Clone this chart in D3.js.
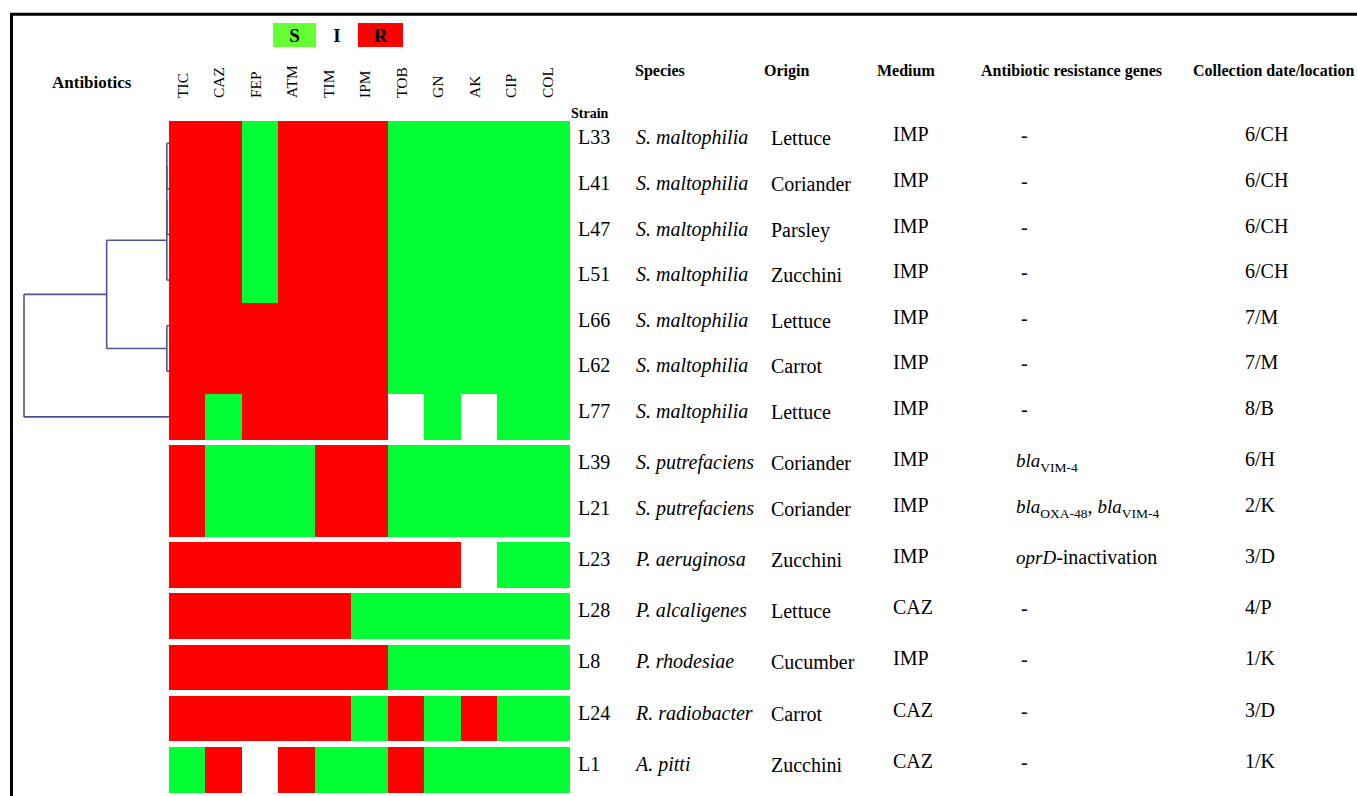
<!DOCTYPE html>
<html>
<head>
<meta charset="utf-8">
<script src="https://cdn.jsdelivr.net/npm/d3@7"></script>
<style>
  body { margin: 0; background: #fff; }
  svg text { font-family: "Liberation Serif", "Times New Roman", serif; fill: #000; }
</style>
</head>
<body>
<svg id="chart" width="1357" height="796"></svg>
<script>
// antibiotics (columns) and strains (rows)
var antibiotics = ["TIC", "CAZ", "FEP", "ATM", "TIM", "IPM", "TOB", "GN", "AK", "CIP", "COL"];
var strains = ["L33", "L41", "L47", "L51", "L66", "L62", "L77", "L39", "L21", "L23", "L28", "L8", "L24", "L1"];
var rowGroup = [0, 0, 0, 0, 0, 0, 0, 1, 1, 2, 3, 4, 5, 6];

// S / I / R profile, one letter per antibiotic
var profiles = [
  "RRSRRRSSSSS",
  "RRSRRRSSSSS",
  "RRSRRRSSSSS",
  "RRSRRRSSSSS",
  "RRRRRRSSSSS",
  "RRRRRRSSSSS",
  "RSRRRRISISS",
  "RSSSRRSSSSS",
  "RSSSRRSSSSS",
  "RRRRRRRRISS",
  "RRRRRSSSSSS",
  "RRRRRRSSSSS",
  "RRRRRSRSRSS",
  "SRIRSSRSSSS"
];

var species = ["S. maltophilia", "S. maltophilia", "S. maltophilia", "S. maltophilia", "S. maltophilia",
  "S. maltophilia", "S. maltophilia", "S. putrefaciens", "S. putrefaciens", "P. aeruginosa",
  "P. alcaligenes", "P. rhodesiae", "R. radiobacter", "A. pitti"];
var origins = ["Lettuce", "Coriander", "Parsley", "Zucchini", "Lettuce", "Carrot", "Lettuce",
  "Coriander", "Coriander", "Zucchini", "Lettuce", "Cucumber", "Carrot", "Zucchini"];
var media = ["IMP", "IMP", "IMP", "IMP", "IMP", "IMP", "IMP", "IMP", "IMP", "IMP", "CAZ", "IMP", "CAZ", "CAZ"];
// gene text as [text, style] pieces: i = italic, s = subscript, n = normal
var genes = [
  [["-", "n"]], [["-", "n"]], [["-", "n"]], [["-", "n"]], [["-", "n"]], [["-", "n"]], [["-", "n"]],
  [["bla", "i"], ["VIM-4", "s"]],
  [["bla", "i"], ["OXA-48", "s"], [", ", "n"], ["bla", "i"], ["VIM-4", "s"]],
  [["oprD", "i"], ["-inactivation", "n"]],
  [["-", "n"]], [["-", "n"]], [["-", "n"]], [["-", "n"]]
];
var collection = ["6/CH", "6/CH", "6/CH", "6/CH", "7/M", "7/M", "8/B", "6/H", "2/K", "3/D", "4/P", "1/K", "3/D", "1/K"];

var headers = ["Species", "Origin", "Medium", "Antibiotic resistance genes", "Collection date/location"];

// dendrogram of the first block (h = joining distance)
var tree = {h: 1, children: [
  {h: 0.43, children: [
    {h: 0.015, children: [
      {h: 0.015, children: [
        {h: 0.015, children: [{name: "L33", h: 0}, {name: "L41", h: 0}]},
        {name: "L47", h: 0}]},
      {name: "L51", h: 0}]},
    {h: 0.015, children: [{name: "L66", h: 0}, {name: "L62", h: 0}]}]},
  {name: "L77", h: 0}]};

var colors = {R: "#ff0000", S: "#00ff33", I: "#ffffff"};

var svg = d3.select("#chart");

// frame
svg.append("path")
  .attr("d", "M11.5,800 V14.3 H1360")
  .attr("fill", "none")
  .attr("stroke", "#000")
  .attr("stroke-width", 3);

// scales
var rowH = 45.6, gap = 5.6, gridTop = 120.5;
var x = d3.scaleBand().domain(antibiotics).range([168.5, 570]);
var yBand = d3.scaleBand().domain(strains).range([gridTop, gridTop + rowH * strains.length]);
function y(s) {
  return yBand(s) + rowGroup[strains.indexOf(s)] * gap;
}
function yc(s) {
  return y(s) + yBand.bandwidth() / 2;
}

// legend
var legend = [{k: "S", x: 273, w: 43, fill: "#66ff33"}, {k: "I", x: 322, w: 30, fill: "none"}, {k: "R", x: 358, w: 45, fill: "#ff0000"}];
var lg = svg.append("g").selectAll("g").data(legend).enter().append("g");
lg.append("rect")
  .attr("x", function(d) { return d.x; })
  .attr("y", 23)
  .attr("width", function(d) { return d.w; })
  .attr("height", 24)
  .attr("fill", function(d) { return d.fill; });
lg.append("text")
  .attr("x", function(d) { return d.x + d.w / 2; })
  .attr("y", 42)
  .attr("text-anchor", "middle")
  .style("font-size", "19px")
  .style("font-weight", "bold")
  .text(function(d) { return d.k; });

svg.append("text")
  .attr("x", 52).attr("y", 88)
  .style("font-size", "17px").style("font-weight", "bold")
  .text("Antibiotics");

// antibiotic labels, rotated
svg.append("g").selectAll("text")
  .data(antibiotics)
  .enter().append("text")
  .attr("transform", function(d) {
    return "translate(" + (x(d) + x.bandwidth() / 2 + 1) + ",98) rotate(-90)";
  })
  .style("font-size", "15.5px")
  .text(function(d) { return d; });

// heatmap cells
var cells = [];
strains.forEach(function(s, i) {
  antibiotics.forEach(function(a, j) {
    cells.push({strain: s, ab: a, v: profiles[i][j]});
  });
});
svg.append("g").selectAll("rect")
  .data(cells)
  .enter().append("rect")
  .attr("x", function(d) { return x(d.ab); })
  .attr("y", function(d) { return y(d.strain); })
  .attr("width", x.bandwidth())
  .attr("height", yBand.bandwidth())
  .attr("fill", function(d) { return colors[d.v]; })
  .attr("shape-rendering", "crispEdges");

// dendrogram
var dist = d3.scaleLinear().domain([0, 1]).range([169, 24]);
var root = d3.hierarchy(tree);
root.eachAfter(function(n) {
  if (!n.children) n.yy = yc(n.data.name);
  else n.yy = d3.mean(n.children, function(c) { return c.yy; });
});
var dg = svg.append("g")
  .attr("fill", "none")
  .attr("stroke", "#4f5290")
  .attr("stroke-width", 1.6);
root.descendants().filter(function(n) { return n.children; }).forEach(function(n) {
  var kids = n.children;
  dg.append("line")
    .attr("x1", dist(n.data.h)).attr("x2", dist(n.data.h))
    .attr("y1", kids[0].yy).attr("y2", kids[kids.length - 1].yy);
  kids.forEach(function(c) {
    dg.append("line")
      .attr("x1", dist(n.data.h)).attr("x2", dist(c.data.h))
      .attr("y1", c.yy).attr("y2", c.yy);
  });
});

// table headers
var headX = [635, 764, 877, 981, 1193];
svg.append("g").selectAll("text")
  .data(headers)
  .enter().append("text")
  .attr("x", function(d, i) { return headX[i]; })
  .attr("y", 76)
  .style("font-size", "16px")
  .style("font-weight", "bold")
  .text(function(d) { return d; });

svg.append("text")
  .attr("x", 571).attr("y", 118)
  .style("font-size", "14px").style("font-weight", "bold")
  .text("Strain");

// table body
var rows = svg.append("g").selectAll("g")
  .data(strains)
  .enter().append("g")
  .attr("transform", function(d) { return "translate(0," + (yc(d) + 1) + ")"; })
  .style("font-size", "20px");

rows.append("text").attr("x", 578).text(function(d) { return d; });
rows.append("text").attr("x", 636).style("font-style", "italic")
  .text(function(d, i) { return species[i]; });
rows.append("text").attr("x", 771).attr("y", 1)
  .text(function(d, i) { return origins[i]; });
rows.append("text").attr("x", 893).attr("y", -3)
  .text(function(d, i) { return media[i]; });
rows.append("text").attr("x", 1245).attr("y", -3)
  .text(function(d, i) { return collection[i]; });

var geneText = rows.append("text")
  .attr("x", function(d, i) { return genes[i][0][0] === "-" ? 1021 : 1016; })
  .attr("y", -2);
geneText.each(function(d, i) {
  var t = d3.select(this);
  var shifted = false;
  genes[i].forEach(function(p) {
    var sp = t.append("tspan").text(p[0]);
    if (p[1] === "i") sp.style("font-style", "italic").style("font-size", "19px");
    if (p[1] === "s") {
      sp.style("font-size", "13.5px").attr("dy", shifted ? 0 : 5);
      shifted = true;
    } else if (shifted) {
      sp.attr("dy", -5);
      shifted = false;
    }
  });
});
</script>
</body>
</html>
